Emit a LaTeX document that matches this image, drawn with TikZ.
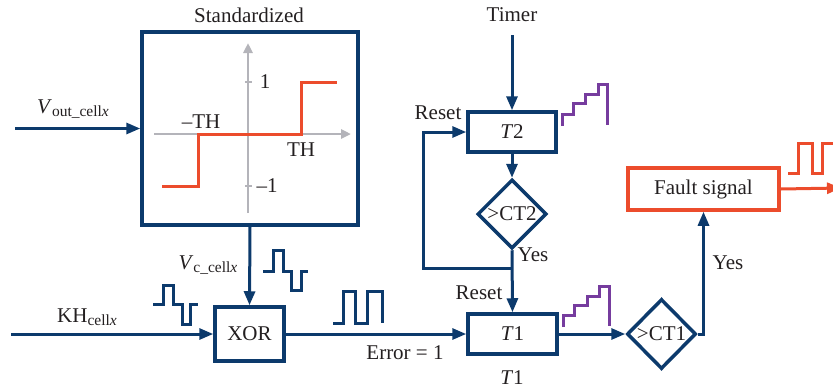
\documentclass[tikz,border=0pt]{standalone}
\usepackage{fontspec}
\setmainfont{Liberation Serif}
\usetikzlibrary{arrows.meta,shapes.geometric}
\definecolor{navy}{RGB}{12,58,108}
\definecolor{redo}{RGB}{236,76,44}
\definecolor{purp}{RGB}{118,60,158}
\definecolor{axg}{RGB}{180,180,186}
\definecolor{txt}{RGB}{35,31,32}
\newcommand{\subtx}[1]{\raisebox{-0.35ex}{\fontsize{15.5}{15.5}\selectfont #1}}
\tikzset{
  every node/.style={font=\fontsize{21}{23}\selectfont, text=txt},
  blk/.style={draw=navy, line width=3.5pt, rectangle, inner sep=0pt},
  dia/.style={draw=navy, line width=3.5pt, diamond, inner sep=0pt, minimum width=69pt, minimum height=69pt},
  conn/.style={draw=navy, line width=3pt},
  arr/.style={conn, -{Triangle[length=14pt,width=11pt]}},
  wave/.style={draw=navy, line width=3pt},
  stair/.style={draw=purp, line width=3pt},
  axis/.style={draw=axg, line width=2.5pt, -{Triangle[length=10pt,width=9pt]}},
  lbl/.style={inner sep=0pt}
}
\begin{document}
\begin{tikzpicture}[x=1pt,y=-1pt]
\useasboundingbox (0,0) rectangle (833,389);
% blocks
\node[blk, minimum width=216pt, minimum height=193pt] (std) at (250,128.5) {};
\node[lbl] (stdt) at (249,15) {Standardized};
\node[blk, minimum width=69pt, minimum height=54pt] (xor) at (249.5,334) {XOR};
\node[blk, minimum width=88pt, minimum height=40pt] (t2) at (512,132) {\textit{T}2};
\node[blk, minimum width=89pt, minimum height=40pt] (t1) at (512.5,334) {\textit{T}1};
\node[dia, label={center:{>CT2}}] (ct2) at (512,214) {};
\node[dia, minimum height=70pt, label={center:{>CT1}}] (ct1) at (661.5,334) {};
\node[blk, draw=redo, minimum width=151pt, minimum height=42pt] (fault) at (703.5,189) {Fault signal};
\node[lbl] (timer) at (512,15) {Timer};
% inner graph
\coordinate (ya) at (248,213);
\coordinate (yb) at (248,43);
\coordinate (xa) at (154,134);
\coordinate (xb) at (351,134);
\draw[axis] (ya) -- (yb);
\draw[axis] (xa) -- (xb);
\coordinate (tk1a) at (245,82); \coordinate (tk1b) at (252,82);
\coordinate (tk2a) at (245,186); \coordinate (tk2b) at (252,186);
\draw[axg, line width=2.5pt] (tk1a) -- (tk1b);
\draw[axg, line width=2.5pt] (tk2a) -- (tk2b);
\node[lbl] (one) at (265,82) {1};
\node[lbl] (mone) at (267,186) {–1};
\node[lbl] (mth) at (201,122) {–TH};
\node[lbl] (th) at (301,150) {TH};
\draw[redo, line width=3pt] (162,186) -- (198,186) -- (198,134) -- (301,134) -- (301,82) -- (337,82);
% inputs
\coordinate (vin) at (15,128.5);
\coordinate (khin) at (11,334);
\draw[arr] (vin) -- (std.west);
\node[lbl] (vlab) at (73,109) {\textit{V}\subtx{out\_cell\textit{x}}};
\draw[arr] (khin) -- (xor.west);
\node[lbl] (khlab) at (87,317) {KH\subtx{cell\textit{x}}};
\draw[arr] (std.south) -- (xor.north);
\node[lbl] (vclab) at (208,265) {\textit{V}\subtx{c\_cell\textit{x}}};
% XOR -> T1
\draw[arr] (xor.east) -- (t1.west);
\node[lbl] (err) at (405,353) {Error = 1};
% timer
\coordinate (tin) at (512,35);
\draw[arr] (tin) -- (t2.north);
\draw[arr] (t2.south) -- (ct2.north);
\draw[arr] (ct2.south) -- (t1.north);
\coordinate (j) at (512,268);
\coordinate (lp) at (423,268);
\draw[arr] (j) -- (lp) |- (t2.west);
\node[lbl] (rs2) at (438,113) {Reset};
\node[lbl] (rs1) at (479,293) {Reset};
\node[lbl] (yes2) at (533,255) {Yes};
\node[lbl] (t1lab) at (512,378) {\textit{T}1};
% T1 -> CT1 -> fault
\draw[arr] (t1.east) -- (ct1.west);
\draw[arr] (ct1.east) -| (fault.south);
\node[lbl] (yes1) at (728,263) {Yes};
\coordinate (fout) at (841,188);
\draw[redo, line width=3pt, -{Triangle[length=14pt,width=11pt]}] (fault.east) -- (fout);
% waves
\draw[wave] (153,304) -- (163,304) -- (163,285) -- (173,285) -- (173,304) -- (182,304) -- (182,324) -- (190,324) -- (190,304) -- (198,304);
\draw[wave] (263,271) -- (273,271) -- (273,250) -- (283,250) -- (283,271) -- (291,271) -- (291,290) -- (301,290) -- (301,271) -- (308,271);
\draw[wave] (333,323) -- (343,323) -- (343,291) -- (355,291) -- (355,323) -- (367,323) -- (367,291) -- (382,291) -- (382,323);
\draw[redo, line width=3pt] (788,173) -- (798,173) -- (798,143) -- (812,143) -- (812,173) -- (822,173) -- (822,143) -- (840,143);
% stairs
\draw[stair] (562,126) -- (562,114) -- (573,114) -- (573,103) -- (585,103) -- (585,94) -- (598,94) -- (598,84) -- (607,84) -- (607,125);
\draw[stair] (563,327) -- (563,315) -- (574,315) -- (574,305) -- (587,305) -- (587,296) -- (599,296) -- (599,286) -- (609,286) -- (609,326);
\end{tikzpicture}
\end{document}
